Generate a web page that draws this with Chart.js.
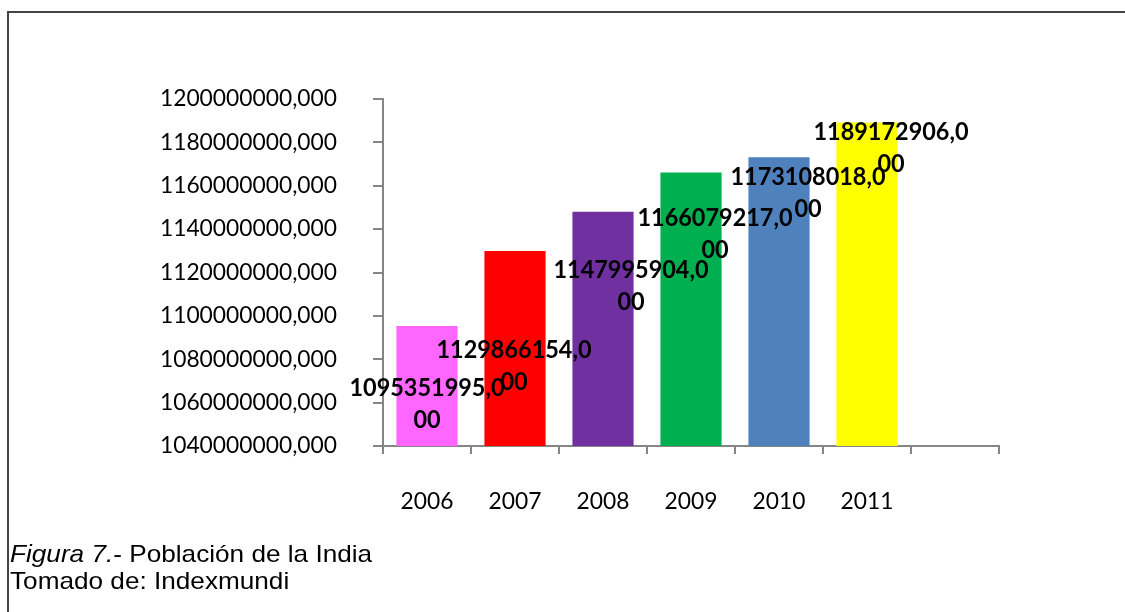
<!DOCTYPE html>
<html lang="es">
<head>
<meta charset="UTF-8">
<title>Población de la India</title>
<script src="https://cdn.jsdelivr.net/npm/chart.js@4.4.1/dist/chart.umd.min.js"></script>
<style>
  body { margin: 0; background: #fff; }
  #wrap { position: relative; width: 1125px; height: 612px; overflow: hidden; }
  #frame { position: absolute; left: 7px; top: 11px; width: 1130px; height: 620px;
           border-top: 2px solid #444; border-left: 2px solid #444; }
  #caption { position: absolute; left: 10px; top: 540px; font-family: "Liberation Sans", Arial, sans-serif;
             font-size: 24px; line-height: 27.3px; color: #000; transform: scaleX(1.09); transform-origin: left top;
             white-space: nowrap; }
</style>
</head>
<body>
<div id="wrap">
  <div id="frame"></div>
  <canvas id="popChart" width="1125" height="612"></canvas>
  <div id="caption"><i>Figura 7.</i>- Población de la India<br>Tomado de: Indexmundi</div>
</div>

<script>
// population per year (last slot is an empty category)
var years = ['2006', '2007', '2008', '2009', '2010', '2011', ''];
var population = [1095351995, 1129866154, 1147995904, 1166079217, 1173108018, 1189172906, null];
var barColors = ['#FF66FF', '#FF0000', '#7030A0', '#00B050', '#4F81BD', '#FFFF00', '#FFFFFF'];

// where each value label sits, relative to the top centre of its bar (px)
var labelShiftX = [0, -1, 28, 24, 29, 24, 0];
var labelShiftY = [62, 99, 58, 45, 20, 10, 0];

function fmt(v) {
    return v.toFixed(3).replace('.', ',');
}

// draws the value labels, wrapped after 12 characters like the spreadsheet does
var valueLabels = {
    id: 'valueLabels',
    afterDatasetsDraw: function(chart) {
        var ctx = chart.ctx;
        var meta = chart.getDatasetMeta(0);
        ctx.save();
        ctx.font = 'bold 24.8px Lato';
        ctx.fillStyle = '#000';
        ctx.textAlign = 'center';
        ctx.textBaseline = 'middle';
        meta.data.forEach(function(bar, i) {
            var v = population[i];
            if (v == null) return;
            var s = fmt(v);
            var x = bar.x + labelShiftX[i];
            var y = bar.y + labelShiftY[i];
            // slightly narrowed glyphs
            ctx.save();
            ctx.translate(x, y);
            ctx.scale(0.945, 1);
            ctx.fillText(s.slice(0, 12), 0, 0);
            ctx.fillText(s.slice(12), 0, 32);
            ctx.restore();
        });
        ctx.restore();
    }
};

var axisGray = '#868686';

new Chart(document.getElementById('popChart'), {
    type: 'bar',
    data: {
        labels: years,
        datasets: [{
            data: population,
            backgroundColor: barColors,
            borderWidth: 0,
            categoryPercentage: 1,
            barPercentage: 0.695
        }]
    },
    options: {
        responsive: false,
        animation: false,
        layout: { padding: { left: 0, top: 99, right: 126, bottom: 0 } },
        plugins: { legend: { display: false }, tooltip: { enabled: false } },
        scales: {
            x: {
                grid: { drawOnChartArea: false, drawTicks: true, tickLength: 8, offset: true, color: axisGray, lineWidth: 2 },
                border: { color: axisGray, width: 2 },
                ticks: { color: '#000', padding: 34, font: { family: 'Lato', size: 22.8 }, maxRotation: 0 },
                afterFit: function(scale) { scale.height = 166; }
            },
            y: {
                min: 1040000000,
                max: 1200000000,
                grid: { drawOnChartArea: false, drawTicks: true, tickLength: 10, color: axisGray, lineWidth: 2 },
                border: { color: axisGray, width: 2 },
                ticks: {
                    stepSize: 20000000,
                    color: '#000',
                    padding: 36,
                    font: { family: 'Lato', size: 22.8 },
                    callback: function(v) { return fmt(v); }
                },
                afterFit: function(scale) { scale.width = 383; }
            }
        }
    },
    plugins: [valueLabels]
});
</script>
</body>
</html>
